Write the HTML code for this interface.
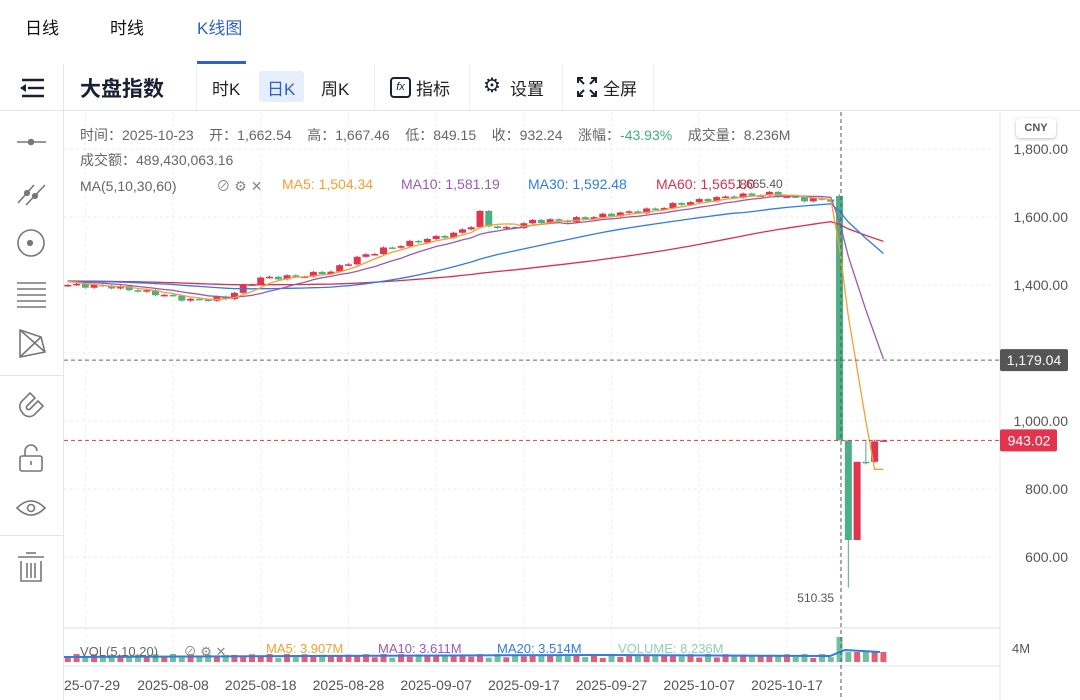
<!DOCTYPE html>
<html><head><meta charset="utf-8"><style>
body{margin:0;width:1080px;height:700px;overflow:hidden;background:#fff;font-family:"Liberation Sans","Noto Sans CJK SC",sans-serif;position:relative}
.a{position:absolute;white-space:nowrap}
</style></head><body>
<div class="a" style="left:25px;top:14px;font-size:17px;color:#111">日线</div>
<div class="a" style="left:110px;top:14px;font-size:17px;color:#111">时线</div>
<div class="a" style="left:197px;top:14px;font-size:17px;color:#2f5fd0">K线图</div>
<div class="a" style="left:197px;top:61px;width:49px;height:3px;background:#2f5fd0"></div>
<div class="a" style="left:0;top:110px;width:1080px;height:1px;background:#e6e6ea"></div>
<div class="a" style="left:63px;top:64px;width:1px;height:636px;background:#e6e6ea"></div>
<div class="a" style="left:0;top:375px;width:63px;height:1px;background:#e6e6ea"></div>
<div class="a" style="left:0;top:535px;width:63px;height:1px;background:#e6e6ea"></div>
<div class="a" style="left:80px;top:73px;font-size:21px;font-weight:bold;color:#1a1f36">大盘指数</div>
<div class="a" style="left:196px;top:64px;width:1px;height:46px;background:#eee"></div>
<div class="a" style="left:212px;top:75px;font-size:17px;color:#222">时K</div>
<div class="a" style="left:259px;top:71px;width:45px;height:31px;background:#e6eefc;border-radius:3px"></div>
<div class="a" style="left:267px;top:75px;font-size:17px;color:#2f5fd0">日K</div>
<div class="a" style="left:321px;top:75px;font-size:17px;color:#222">周K</div>
<div class="a" style="left:374px;top:64px;width:1px;height:46px;background:#eee"></div>
<div class="a" style="left:390px;top:77px;width:17px;height:17px;border:2px solid #1a1f36;border-radius:4px;font-size:11px;line-height:17px;text-align:center;font-style:italic;color:#1a1f36">fx</div>
<div class="a" style="left:416px;top:75px;font-size:17px;color:#222">指标</div>
<div class="a" style="left:469px;top:64px;width:1px;height:46px;background:#eee"></div>
<div class="a" style="left:483px;top:74px;font-size:20px;line-height:24px;color:#1a1f36">⚙</div>
<div class="a" style="left:510px;top:75px;font-size:17px;color:#222">设置</div>
<div class="a" style="left:562px;top:64px;width:1px;height:46px;background:#eee"></div>
<svg class="a" style="left:577px;top:77px" width="20" height="20"><g stroke="#1a1f36" stroke-width="2" fill="none"><path d="M1 6V1h5M14 1h5v5M19 14v5h-5M6 19H1v-5M2 2l5 5M18 2l-5 5M18 18l-5-5M2 18l5-5"/></g></svg>
<div class="a" style="left:603px;top:75px;font-size:17px;color:#222">全屏</div>
<div class="a" style="left:653px;top:64px;width:1px;height:46px;background:#eee"></div>
<svg class="a" style="left:0;top:0" width="64" height="700">
<g stroke="#1a1f36" stroke-width="2.4"><line x1="22" y1="80" x2="44" y2="80"/><line x1="28" y1="88" x2="44" y2="88"/><line x1="22" y1="96" x2="44" y2="96"/></g><path d="M20 88 l6 -4 v8z" fill="#1a1f36"/>
<g stroke="#777" stroke-width="1.6" fill="none">
<line x1="17" y1="142" x2="46" y2="142"/><circle cx="31" cy="142" r="2.5" fill="#777"/>
<line x1="18" y1="203" x2="34" y2="185"/><line x1="26" y1="205" x2="45" y2="185"/><circle cx="27" cy="193" r="2.3" fill="#777"/><circle cx="35" cy="196" r="2.3" fill="#777"/>
<circle cx="31" cy="243" r="13"/><circle cx="30" cy="243" r="2.3" fill="#777"/>
<line x1="17" y1="283" x2="46" y2="283"/><line x1="17" y1="289" x2="46" y2="289"/><line x1="17" y1="295" x2="46" y2="295"/><line x1="17" y1="301" x2="46" y2="301"/><line x1="17" y1="307" x2="46" y2="307"/>
<path d="M20 330 L41 337 L45 352 L20 357 Z M20 330 L45 352 M41 337 L20 357"/>
<path d="M22 412 a8 8 0 0 1 0 -11 l8 -8 l5 5 l-8 8 a2 2 0 0 0 3 3 l8 -8 l5 5 l-8 8 a8 8 0 0 1 -13 -2z"/>
<rect x="20" y="456" width="22" height="15" rx="2"/><path d="M25 456 v-5 a6 6 0 0 1 12 0"/><line x1="31" y1="461" x2="31" y2="465"/>
<path d="M17 508 q14 -14 28 0 q-14 14 -28 0z"/><circle cx="31" cy="508" r="3.5"/>
<line x1="18" y1="557" x2="44" y2="557"/><line x1="26" y1="553" x2="36" y2="553"/><path d="M21 561 v20 h20 v-20 M27 563 v15 M31 563 v15 M35 563 v15"/>
</g></svg>
<svg id="ch" class="a" style="left:0;top:0" width="1080" height="700"></svg>
<div class="a" style="left:80px;top:125px;font-size:14px;color:#666">时间：2025-10-23 &nbsp;&nbsp; 开：1,662.54 &nbsp;&nbsp; 高：1,667.46 &nbsp;&nbsp; 低：849.15 &nbsp;&nbsp; 收：932.24 &nbsp;&nbsp; 涨幅：<span style="color:#3fae7e">-43.93%</span> &nbsp;&nbsp; 成交量：8.236M</div>
<div class="a" style="left:80px;top:150px;font-size:14px;color:#666">成交额：489,430,063.16</div>
<div class="a" style="left:80px;top:176px;font-size:14px;color:#666">MA(5,10,30,60) <span style="margin-left:36px;color:#888">⊘ ⚙ ✕</span></div>
<div class="a" style="left:282px;top:176px;font-size:14px;color:#f5a030">MA5: 1,504.34</div>
<div class="a" style="left:401px;top:176px;font-size:14px;color:#9b59b6">MA10: 1,581.19</div>
<div class="a" style="left:528px;top:176px;font-size:14px;color:#2f7de1">MA30: 1,592.48</div>
<div class="a" style="left:656px;top:176px;font-size:14px;color:#d9304f">MA60: 1,565.80</div>
<div class="a" style="left:1016px;top:118px;width:40px;height:20px;border-radius:4px;box-shadow:0 1px 3px #bbb;font-size:11px;font-weight:bold;color:#555;text-align:center;line-height:20px">CNY</div>
<div class="a" style="left:80px;top:641px;font-size:13px;color:#666">VOL(5,10,20) <span style="margin-left:22px;color:#888">⊘ ⚙ ✕</span></div>
<div class="a" style="left:266px;top:641px;font-size:13px;color:#f5a030">MA5: 3.907M</div>
<div class="a" style="left:378px;top:641px;font-size:13px;color:#9b59b6">MA10: 3.611M</div>
<div class="a" style="left:497px;top:641px;font-size:13px;color:#2f7de1">MA20: 3.514M</div>
<div class="a" style="left:618px;top:641px;font-size:13px;color:#8fd0b0">VOLUME: 8.236M</div>
<script>
const s=document.getElementById('ch');let h='';
const Y=v=>149+(1800-v)*0.34, X=i=>67.8+i*8.77;
[1800,1600,1400,1200,1000,800,600].forEach(v=>{h+=`<line x1="64" x2="1000" y1="${Y(v)}" y2="${Y(v)}" stroke="#eee" stroke-dasharray="3 3"/>`;
if(v!=1200)h+=`<text x="1068" y="${Y(v)+5}" text-anchor="end" font-size="14" fill="#555">${v.toLocaleString('en')}.00</text>`});
const dl=['25-07-29','2025-08-08','2025-08-18','2025-08-28','2025-09-07','2025-09-17','2025-09-27','2025-10-07','2025-10-17'];
dl.forEach((d,k)=>{const x=X(2+10*k);h+=`<line x1="${x}" x2="${x}" y1="112" y2="665" stroke="#eee" stroke-dasharray="3 3"/>`;
h+=`<text x="${k==0?64:x}" y="690" text-anchor="${k==0?'start':'middle'}" font-size="14" fill="#555">${d}</text>`});
h+=`<line x1="1000" x2="1000" y1="112" y2="700" stroke="#e6e6ea"/><line x1="64" x2="1000" y1="628" y2="628" stroke="#ddd"/><line x1="64" x2="1000" y1="666" y2="666" stroke="#e6e6ea"/>`;
const kp=[[0,1400],[5,1395],[10,1375],[14,1355],[18,1362],[20,1395],[22,1420],[26,1425],[30,1440],[33,1480],[36,1505],[40,1530],[44,1550],[46,1575],[47,1612],[48,1575],[50,1565],[53,1588],[57,1590],[62,1608],[66,1620],[70,1640],[73,1652],[76,1662],[80,1668],[84,1652],[87,1650]];
let c=[];for(let i=0;i<=87;i++){let a=kp.find((p,j)=>kp[j+1]&&i>=p[0]&&i<=kp[j+1][0]);let j=kp.indexOf(a),b=kp[j+1]||a;let t=b[0]==a[0]?0:(i-a[0])/(b[0]-a[0]);c.push(a[1]+(b[1]-a[1])*t+Math.sin(i*2.3)*6)}
let cs=[];for(let i=0;i<=87;i++){let o=i?c[i-1]:1398,cl=c[i];cs.push([o,cl,Math.max(o,cl)+3,Math.min(o,cl)-3])}
cs.push([1662,943,1667,943],[943,650,943,510],[650,880,880,650],[880,876,945,872],[880,940,945,878],[940,943,945,940]);
const cl=[...Array(60).fill(1412),...cs.map(k=>k[1])];
function ma(n,col,from){let p=[];for(let i=from;i<cs.length;i++){let k=i+60,sm=0;for(let j=k-n+1;j<=k;j++)sm+=cl[j];p.push(X(i).toFixed(1)+','+Y(sm/n).toFixed(1))}h+=`<polyline points="${p.join(' ')}" fill="none" stroke="${col}" stroke-width="1.3"/>`}
cs.forEach((k,i)=>{const up=k[1]>=k[0],col=up?'#e0344f':'#4caf85',x=X(i);
h+=`<line x1="${x}" x2="${x}" y1="${Y(k[2])}" y2="${Y(k[3])}" stroke="${col}"/>`;
let t=Y(Math.max(k[0],k[1])),bt=Y(Math.min(k[0],k[1]));h+=`<rect x="${x-3.5}" y="${t}" width="7" height="${Math.max(1.5,bt-t)}" fill="${col}"/>`;
let vh=i>=88?(i==88?25:10):4+Math.abs(Math.sin(i*1.7))*4;h+=`<rect x="${x-3}" y="${662-vh}" width="6" height="${vh}" fill="${col}" opacity="0.8"/>`});
ma(60,'#d9304f',0);ma(30,'#2f7de1',0);ma(10,'#9b59b6',0);ma(5,'#f5a030',0);
h+=`<polyline points="64,657 300,656 600,655 830,656 845,650 880,652" fill="none" stroke="#2f7de1" stroke-width="2"/>`;
h+=`<line x1="841" x2="841" y1="112" y2="700" stroke="#555" stroke-dasharray="4 3"/>`;
h+=`<line x1="64" x2="1000" y1="${Y(1179)}" y2="${Y(1179)}" stroke="#666" stroke-dasharray="4 3"/><rect x="1000" y="${Y(1179)-11}" width="68" height="22" rx="2" fill="#555"/><text x="1034" y="${Y(1179)+5}" text-anchor="middle" font-size="14" fill="#fff">1,179.04</text>`;
h+=`<line x1="64" x2="1000" y1="${Y(943)}" y2="${Y(943)}" stroke="#e0344f" stroke-dasharray="4 3"/><rect x="1000" y="${Y(943)-11}" width="57" height="22" rx="2" fill="#e0344f"/><text x="1029" y="${Y(943)+5}" text-anchor="middle" font-size="14" fill="#fff">943.02</text>`;
h+=`<text x="834" y="602" text-anchor="end" font-size="12" fill="#555">510.35</text><text x="736" y="188" font-size="12" fill="#555">1,665.40</text>`;
h+=`<text x="1012" y="653" font-size="13" fill="#555">4M</text>`;
s.innerHTML=h;
</script>
</body></html>
